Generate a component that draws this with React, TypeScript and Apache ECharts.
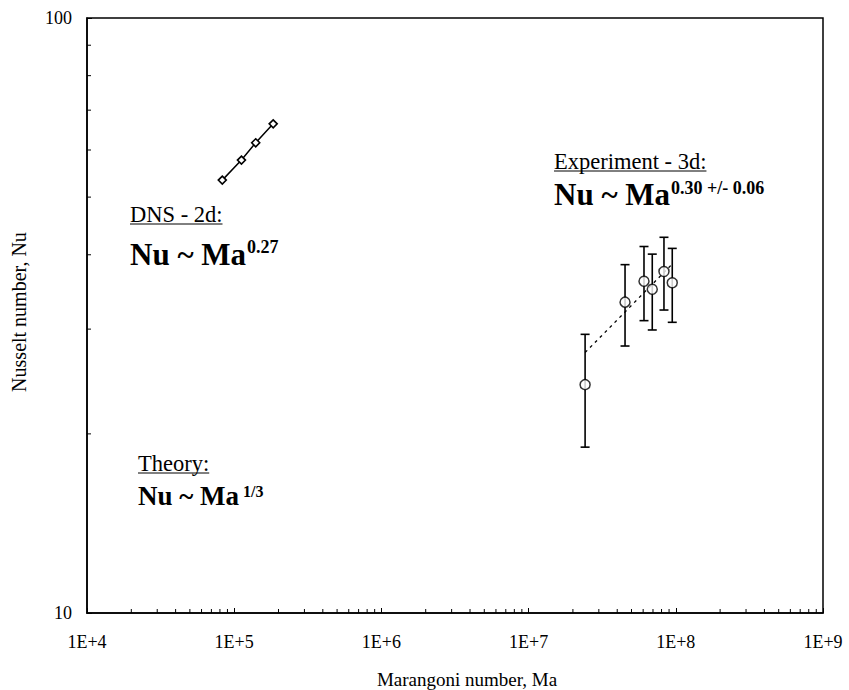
import React, { useEffect, useRef } from "react";
import * as echarts from "echarts";

// ---- data ----
const DNS_MA = [8.3e4, 1.12e5, 1.4e5, 1.84e5];
const DNS_NU = [53.4, 57.7, 61.7, 66.4];

const EXP_MA = [2.42e7, 4.52e7, 6.08e7, 6.92e7, 8.31e7, 9.46e7];
const EXP_NU = [24.2, 33.3, 36.1, 35.0, 37.5, 35.9];
const EXP_LOW = [19.0, 28.1, 31.0, 29.9, 32.3, 30.8];
const EXP_HIGH = [29.4, 38.5, 41.3, 40.1, 42.8, 41.0];

const FIT_MA = [2.42e7, 9.46e7];
const FIT_NU = [27.4, 38.6];

// ---- axis structure ----
const X_DECADES = [1e4, 1e5, 1e6, 1e7, 1e8];
const MINOR_MULTIPLIERS = [2, 3, 4, 5, 6, 7, 8, 9];
const Y_MINOR = [20, 30, 40, 50, 60, 70, 80, 90];
const X_TICK_LABELS = ["1E+4", "1E+5", "1E+6", "1E+7", "1E+8", "1E+9"];

const SERIF = "'Liberation Serif', 'Times New Roman', serif";

function measure(text: string, font: string): number {
  const c = document.createElement("canvas").getContext("2d");
  if (!c) return text.length * 10;
  c.font = font;
  return c.measureText(text).width;
}

export default function App() {
  const ref = useRef<HTMLDivElement>(null);

  useEffect(() => {
    document.body.style.margin = "0";
    const chart = echarts.init(ref.current!, null, { renderer: "svg" });

    const xMinor: number[][] = [];
    X_DECADES.forEach((d) => MINOR_MULTIPLIERS.forEach((m) => xMinor.push([m * d, 10])));
    const yMinor = Y_MINOR.map((v) => [1e4, v]);

    const LABEL_FS = 22.5;
    const labelFont = `${LABEL_FS}px ${SERIF}`;
    const formulaFont = (fs: number) => `bold ${fs}px ${SERIF}`;

    const graphics: any[] = [];
    const addNote = (
      x: number,
      labelBase: number,
      label: string,
      formBase: number,
      formFs: number,
      sup: string,
      supBase: number,
      supFs: number,
      supGap: number
    ) => {
      const lw = measure(label, labelFont);
      graphics.push({
        type: "text",
        x,
        y: labelBase - 0.35 * LABEL_FS,
        style: { text: label, font: labelFont, fill: "#000", align: "left", verticalAlign: "middle" },
      });
      graphics.push({
        type: "line",
        shape: { x1: x, y1: labelBase + 2, x2: x + lw, y2: labelBase + 2 },
        style: { stroke: "#000", lineWidth: 1 },
      });
      const form = "Nu ~ Ma";
      const fw = measure(form, formulaFont(formFs));
      graphics.push({
        type: "text",
        x,
        y: formBase - 0.35 * formFs,
        style: { text: form, font: formulaFont(formFs), fill: "#000", align: "left", verticalAlign: "middle" },
      });
      graphics.push({
        type: "text",
        x: x + fw + supGap,
        y: supBase - 0.35 * supFs,
        style: { text: sup, font: formulaFont(supFs), fill: "#000", align: "left", verticalAlign: "middle" },
      });
    };

    addNote(130, 222, "DNS - 2d:", 265, 31, "0.27", 253, 18, 1);
    addNote(554, 169, "Experiment - 3d:", 205, 31, "0.30 +/- 0.06", 194, 18, 1);
    addNote(138, 471, "Theory:", 505, 27, "1/3", 497, 16, 4);

    graphics.push({
      type: "text",
      x: 467,
      y: 679,
      style: {
        text: "Marangoni number, Ma",
        font: `19px ${SERIF}`,
        fill: "#000",
        align: "center",
        verticalAlign: "middle",
      },
    });
    graphics.push({
      type: "text",
      x: 19,
      y: 312,
      rotation: Math.PI / 2,
      style: {
        text: "Nusselt number, Nu",
        font: `20px ${SERIF}`,
        fill: "#000",
        align: "center",
        verticalAlign: "middle",
      },
    });

    const option: any = {
      animation: false,
      backgroundColor: "#fff",
      grid: {
        left: 87,
        right: 26,
        top: 18,
        bottom: 77,
        show: true,
        borderColor: "#000",
        borderWidth: 1.5,
      },
      xAxis: {
        type: "log",
        logBase: 10,
        min: 1e4,
        max: 1e9,
        axisLine: { show: true, lineStyle: { color: "#000", width: 1.5 } },
        axisTick: { show: true, inside: true, length: 5, lineStyle: { color: "#000", width: 1 } },
        splitLine: { show: false },
        axisLabel: {
          formatter: (v: number) => X_TICK_LABELS[Math.round(Math.log10(v)) - 4] ?? "",
          fontFamily: SERIF,
          fontSize: 18,
          color: "#000",
          margin: 20,
        },
      },
      yAxis: {
        type: "log",
        logBase: 10,
        min: 10,
        max: 100,
        axisLine: { show: true, lineStyle: { color: "#000", width: 1.5 } },
        axisTick: { show: true, inside: true, length: 5, lineStyle: { color: "#000", width: 1 } },
        splitLine: { show: false },
        axisLabel: {
          fontFamily: SERIF,
          fontSize: 18,
          color: "#000",
          margin: 15,
        },
      },
      graphic: graphics,
      series: [
        {
          type: "custom",
          silent: true,
          data: xMinor,
          renderItem: (_p: any, api: any) => {
            const p = api.coord([api.value(0), api.value(1)]);
            return {
              type: "line",
              shape: { x1: p[0], y1: p[1], x2: p[0], y2: p[1] - 4 },
              style: { stroke: "#000", lineWidth: 1 },
            };
          },
          z: 3,
        },
        {
          type: "custom",
          silent: true,
          data: yMinor,
          renderItem: (_p: any, api: any) => {
            const p = api.coord([api.value(0), api.value(1)]);
            return {
              type: "line",
              shape: { x1: p[0], y1: p[1], x2: p[0] + 4, y2: p[1] },
              style: { stroke: "#000", lineWidth: 1 },
            };
          },
          z: 3,
        },
        {
          type: "line",
          data: FIT_MA.map((m, i) => [m, FIT_NU[i]]),
          symbol: "none",
          lineStyle: { color: "#000", width: 1.3, type: [3, 4] },
          z: 2,
        },
        {
          type: "custom",
          data: EXP_MA.map((m, i) => [m, EXP_LOW[i], EXP_HIGH[i]]),
          encode: { x: 0, y: [1, 2] },
          renderItem: (_p: any, api: any) => {
            const lo = api.coord([api.value(0), api.value(1)]);
            const hi = api.coord([api.value(0), api.value(2)]);
            const hw = 4.5;
            const st = { stroke: "#000", lineWidth: 1.6 };
            return {
              type: "group",
              children: [
                { type: "line", shape: { x1: lo[0], y1: lo[1], x2: hi[0], y2: hi[1] }, style: st },
                { type: "line", shape: { x1: lo[0] - hw, y1: lo[1], x2: lo[0] + hw, y2: lo[1] }, style: st },
                { type: "line", shape: { x1: hi[0] - hw, y1: hi[1], x2: hi[0] + hw, y2: hi[1] }, style: st },
              ],
            };
          },
          z: 3,
        },
        {
          type: "scatter",
          data: EXP_MA.map((m, i) => [m, EXP_NU[i]]),
          symbol: "circle",
          symbolSize: 10,
          itemStyle: { color: "#fff", borderColor: "#000", borderWidth: 1.5 },
          z: 4,
        },
        {
          type: "line",
          data: DNS_MA.map((m, i) => [m, DNS_NU[i]]),
          symbol: "diamond",
          symbolSize: 8,
          showSymbol: true,
          itemStyle: { color: "#fff", borderColor: "#000", borderWidth: 1.6 },
          lineStyle: { color: "#000", width: 1.5 },
          z: 4,
        },
      ],
    };

    chart.setOption(option);
    return () => chart.dispose();
  }, []);

  return <div ref={ref} style={{ width: 849, height: 690 }} />;
}
